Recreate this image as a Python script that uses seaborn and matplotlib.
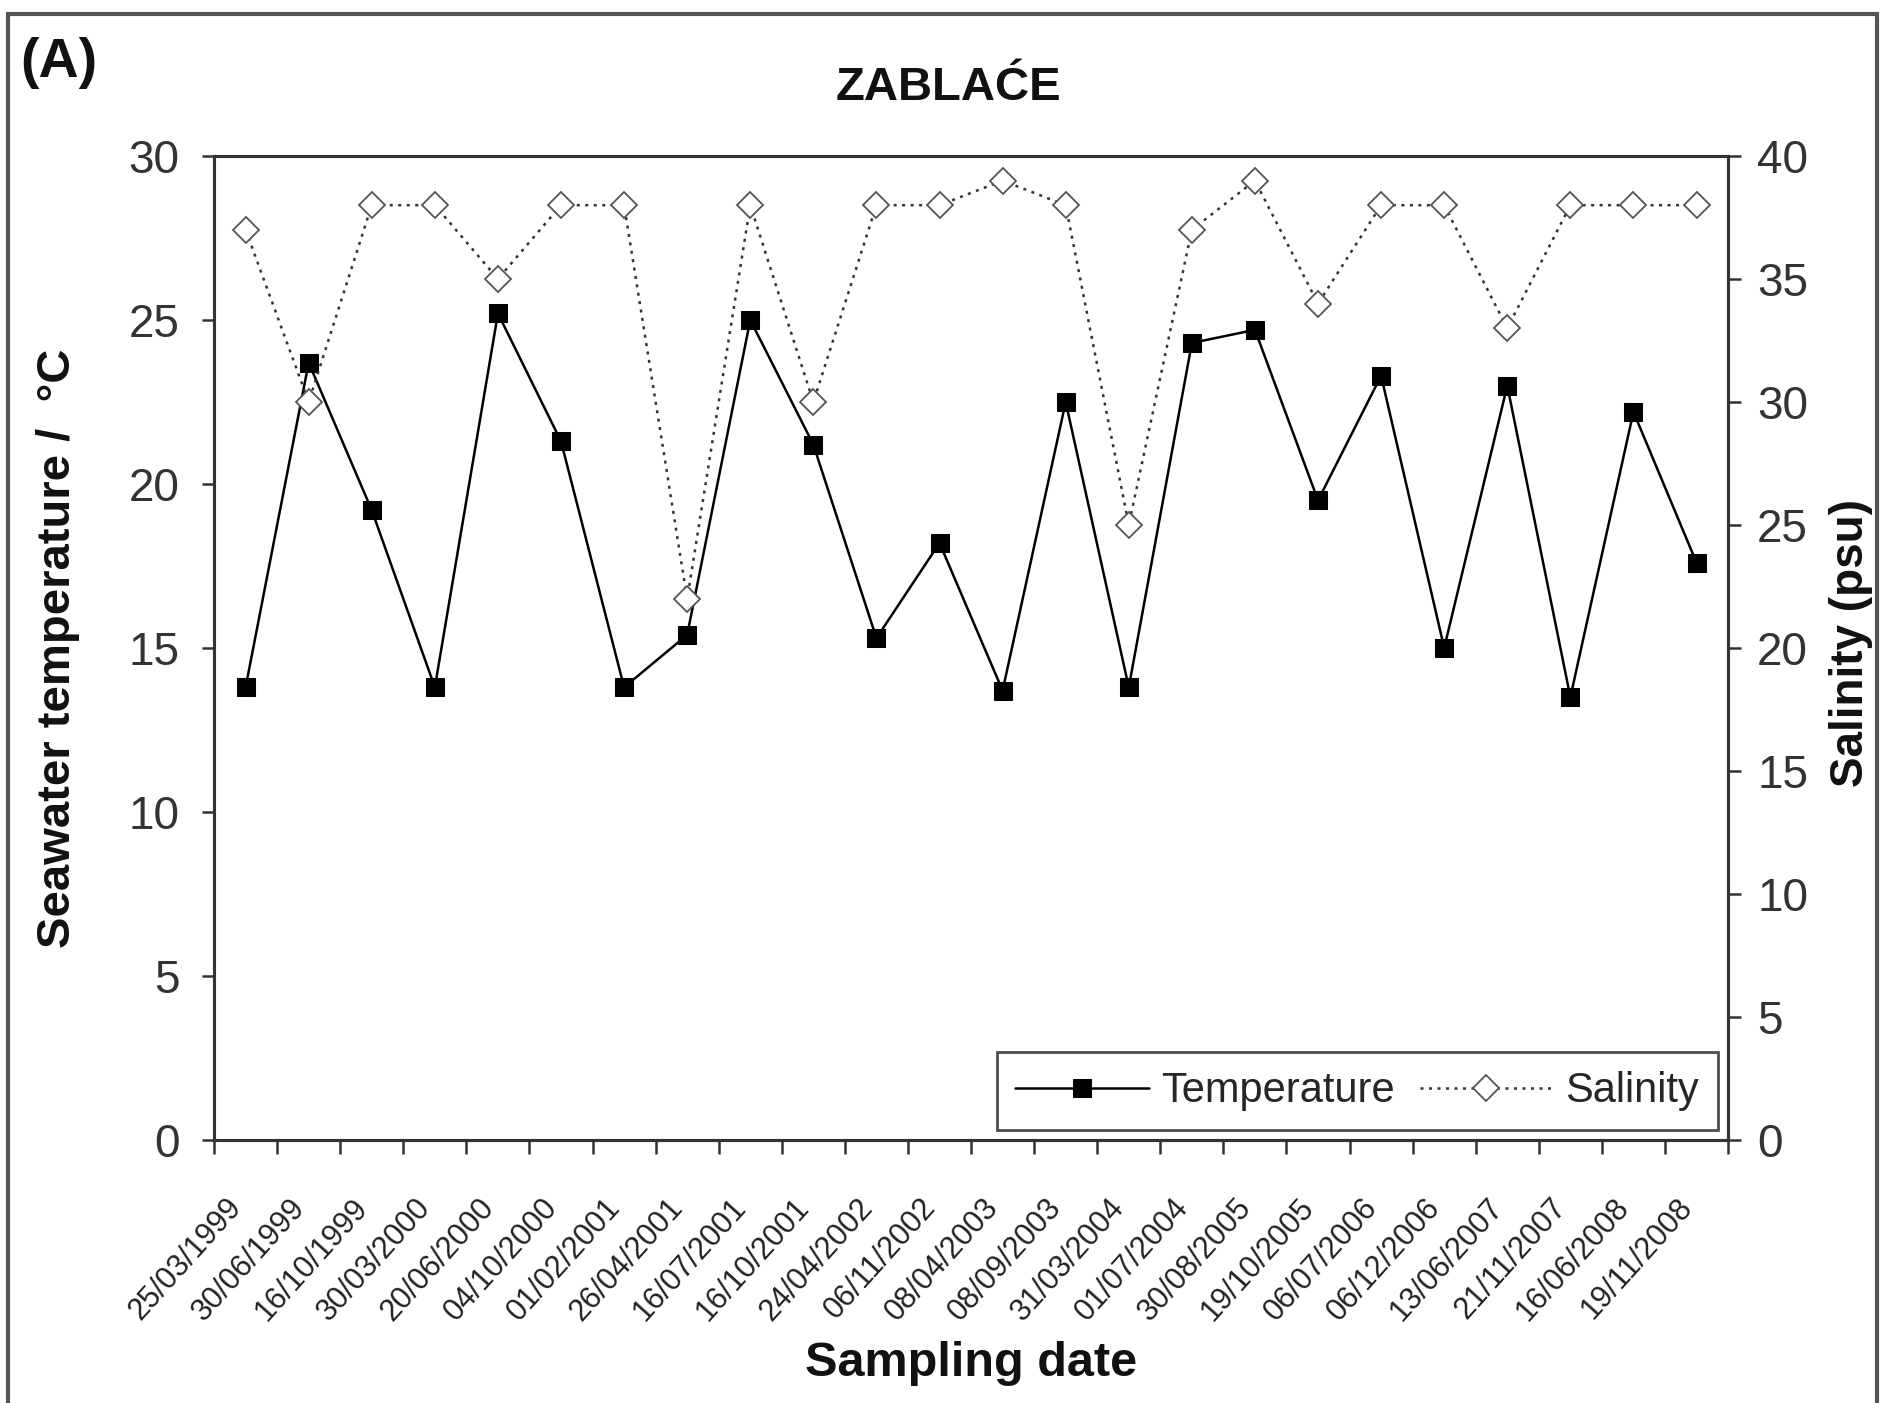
import numpy as np
import pandas as pd
import seaborn as sns
import matplotlib.pyplot as plt
import matplotlib.transforms as mtransforms
from matplotlib.patches import Rectangle

# Sampling dates (category axis) and measured values
dates = ['25/03/1999', '30/06/1999', '16/10/1999', '30/03/2000', '20/06/2000',
         '04/10/2000', '01/02/2001', '26/04/2001', '16/07/2001', '16/10/2001',
         '24/04/2002', '06/11/2002', '08/04/2003', '08/09/2003', '31/03/2004',
         '01/07/2004', '30/08/2005', '19/10/2005', '06/07/2006', '06/12/2006',
         '13/06/2007', '21/11/2007', '16/06/2008', '19/11/2008']
temperature = [13.8, 23.7, 19.2, 13.8, 25.2, 21.3, 13.8, 15.4, 25.0, 21.2,
               15.3, 18.2, 13.7, 22.5, 13.8, 24.3, 24.7, 19.5, 23.3, 15.0,
               23.0, 13.5, 22.2, 17.6]
salinity = [37, 30, 38, 38, 35, 38, 38, 22, 38, 30,
            38, 38, 39, 38, 25, 37, 39, 34, 38, 38,
            33, 38, 38, 38]

df = pd.DataFrame({'date': dates, 'temperature': temperature, 'salinity': salinity})
df['pos'] = np.arange(len(df))

sns.set_theme(style='white')
plt.rcParams['font.family'] = ['Liberation Sans', 'DejaVu Sans']

fig = plt.figure(figsize=(18.81, 14.03), dpi=100)
ax = fig.add_axes([0.1138, 0.1875, 0.8049, 0.7013])
ax2 = ax.twinx()

# Temperature: solid line, filled squares
sns.lineplot(data=df, x='pos', y='temperature', ax=ax, color='black', lw=1.8,
             marker='s', markersize=13, markeredgecolor='black', label='Temperature',
             legend=False)
# Salinity: dotted line, open diamonds
sns.lineplot(data=df, x='pos', y='salinity', ax=ax2, color='#333333', lw=1.8,
             linestyle=(0, (1.2, 2.2)), marker='D', markersize=13,
             markerfacecolor='white', markeredgecolor='#555555', markeredgewidth=1.3,
             label='Salinity', legend=False)

ax.set_xlim(-0.5, len(df) - 0.5)
ax.set_ylim(0, 30)
ax2.set_ylim(0, 40)
ax.set_yticks(range(0, 31, 5))
ax2.set_yticks(range(0, 41, 5))

# category ticks between points, labels at points
ax.set_xticks(df['pos'])
ax.set_xticklabels(df['date'], rotation=48, ha='right', va='top', rotation_mode='anchor')
ax.set_xticks(np.arange(-0.5, len(df), 1), minor=True)
ax.tick_params(axis='x', which='major', length=0, pad=38, labelsize=22, colors='#222222')
ax.tick_params(axis='x', which='minor', length=10, width=1.8, direction='out',
               color='#333333', bottom=True)
offset = mtransforms.ScaledTranslation(-0.20, 0, fig.dpi_scale_trans)
for lab in ax.get_xticklabels():
    lab.set_transform(lab.get_transform() + offset)

ax.tick_params(axis='y', length=9, width=1.8, direction='out', left=True,
               labelsize=33, colors='#333333', pad=16)
ax2.tick_params(axis='y', length=9, width=1.8, direction='out', right=True,
                labelsize=33, colors='#333333', pad=12)

for a in (ax, ax2):
    for s in a.spines.values():
        s.set_color('#333333')
        s.set_linewidth(2.2)
    a.grid(False)

ax.set_xlabel('')
ax.set_ylabel('')
ax2.set_ylabel('')

fig.text(0.031, 0.538, 'Seawater temperature /  °C', rotation=90, ha='center', va='center',
         fontsize=34, fontweight='bold', color='#111111')
fig.text(0.984, 0.542, 'Salinity (psu)', rotation=90, ha='center', va='center',
         fontsize=33, fontweight='bold', color='#111111')
fig.text(0.516, 0.028, 'Sampling date', ha='center', va='center',
         fontsize=35, fontweight='bold', color='#111111')
fig.text(0.504, 0.937, 'ZABLAĆE', ha='center', va='center',
         fontsize=34, fontweight='bold', color='#111111')
fig.text(0.011, 0.955, '(A)', ha='left', va='center',
         fontsize=40, fontweight='bold', color='#111111')

# legend combining both axes
h1, l1 = ax.get_legend_handles_labels()
h2, l2 = ax2.get_legend_handles_labels()
leg = ax.legend(h1 + h2, l1 + l2, loc='lower right', bbox_to_anchor=(0.9934, 0.0102),
                ncol=2, fontsize=30, frameon=True, fancybox=False, borderaxespad=0,
                handlelength=3.2, columnspacing=0.6, handletextpad=0.3,
                borderpad=0.45)
leg.get_frame().set_edgecolor('#222222')
leg.get_frame().set_linewidth(2)
leg.set_zorder(5)

# outer frame of the panel
fig.patches.append(Rectangle((0.004, -0.02), 0.994, 1.01, transform=fig.transFigure,
                             fill=False, edgecolor='#555555', linewidth=3))

fig.savefig('out.png', dpi=100)
